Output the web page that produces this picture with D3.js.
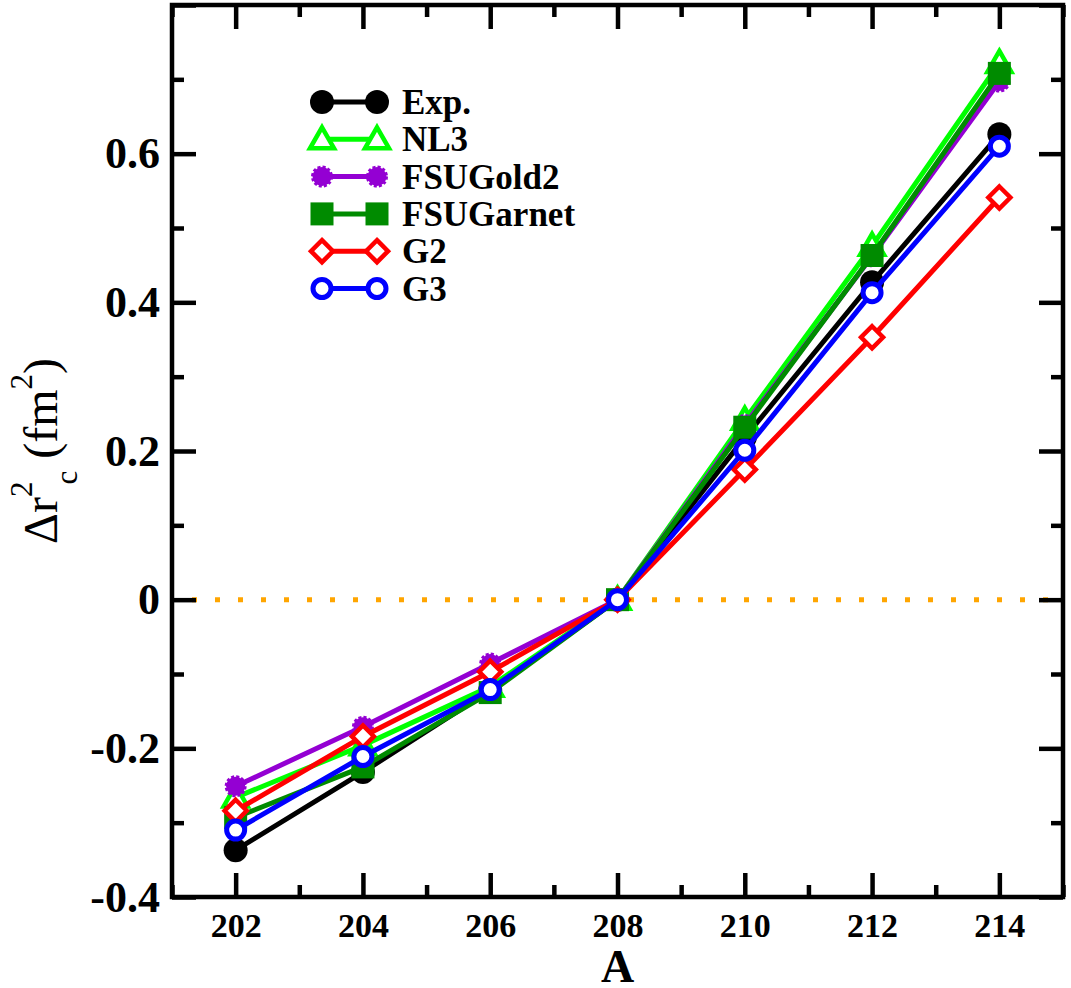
<!DOCTYPE html>
<html>
<head>
<meta charset="utf-8">
<script src="https://cdn.jsdelivr.net/npm/d3@7"></script>
<style>
  body { margin: 0; background: #fff; }
  svg { display: block; }
</style>
</head>
<body>
<svg></svg>
<script>
// mass numbers
const massNumbers = [202, 204, 206, 208, 210, 212, 214];

const expData      = [-0.337, -0.232, -0.122, 0, 0.218, 0.427, 0.626];
const nl3Data      = [-0.266, -0.196, -0.117, 0, 0.242, 0.476, 0.722];
const fsuGold2Data = [-0.251, -0.171, -0.086, 0, 0.235, 0.462, 0.697];
const fsuGarnetData= [-0.293, -0.225, -0.125, 0, 0.232, 0.463, 0.708];
const g2Data       = [-0.284, -0.184, -0.097, 0, 0.175, 0.353, 0.541];
const g3Data       = [-0.310, -0.211, -0.121, 0, 0.201, 0.413, 0.610];

const seriesNames = ["Exp.", "NL3", "FSUGold2", "FSUGarnet", "G2", "G3"];
const seriesColors = ["#000000", "#00ff00", "#9400d3", "#008b00", "#ff0000", "#0000ff"];

const xTicks = [202, 204, 206, 208, 210, 212, 214];
const xMinorTicks = [201, 203, 205, 207, 209, 211, 213, 215];
const yTicks = [-0.4, -0.2, 0, 0.2, 0.4, 0.6, 0.8];
const yTickLabels = ["-0.4", "-0.2", "0", "0.2", "0.4", "0.6", ""];
const yMinorTicks = [-0.3, -0.1, 0.1, 0.3, 0.5, 0.7];

const allData = [expData, nl3Data, fsuGold2Data, fsuGarnetData, g2Data, g3Data];

var w = 1071, h = 988;
const margin = { top: 5, bottom: 91, left: 172, right: 8 };
const innerWidth = w - margin.left - margin.right;
const innerHeight = h - margin.top - margin.bottom;

let svg = d3.select("svg").attr("width", w).attr("height", h);
const g = svg.append("g").attr("transform", `translate(${margin.left},${margin.top})`);

let x = d3.scaleLinear().domain([201, 215]).range([0, innerWidth]);
let y = d3.scaleLinear().domain([-0.4, 0.8]).range([innerHeight, 0]);

const font = "'Liberation Serif', 'Times New Roman', serif";

// zero reference line
g.append("line")
  .attr("x1", 0).attr("x2", innerWidth)
  .attr("y1", y(0)).attr("y2", y(0))
  .attr("stroke", "#ffa500")
  .attr("stroke-width", 5)
  .attr("stroke-dasharray", "5,18")
  .attr("stroke-dashoffset", -20);

function styleAxis(sel, size) {
  sel.select(".domain").remove();
  sel.selectAll(".tick line").attr("stroke", "#000").attr("stroke-width", 4.5);
  sel.selectAll("text").filter(function() { return this.textContent === ""; }).remove();
  sel.selectAll("text")
    .attr("font-family", font)
    .attr("font-weight", "bold")
    .attr("font-size", size)
    .attr("fill", "#000");
}

// bottom axis
g.append("g").attr("transform", `translate(0,${innerHeight})`)
  .call(d3.axisBottom(x).tickValues(xTicks).tickSize(-24).tickPadding(16).tickFormat(d3.format("d")))
  .call(s => styleAxis(s, 34));
g.append("g").attr("transform", `translate(0,${innerHeight})`)
  .call(d3.axisBottom(x).tickValues(xMinorTicks).tickSize(-12).tickFormat(""))
  .call(s => styleAxis(s, 34));
// top axis
g.append("g")
  .call(d3.axisTop(x).tickValues(xTicks).tickSize(-24).tickFormat(""))
  .call(s => styleAxis(s, 34));
g.append("g")
  .call(d3.axisTop(x).tickValues(xMinorTicks).tickSize(-12).tickFormat(""))
  .call(s => styleAxis(s, 34));

// left axis
g.append("g")
  .call(d3.axisLeft(y).tickValues(yTicks).tickSize(-24).tickPadding(12)
    .tickFormat((d, i) => yTickLabels[i]))
  .call(s => styleAxis(s, 44));
g.append("g")
  .call(d3.axisLeft(y).tickValues(yMinorTicks).tickSize(-12).tickFormat(""))
  .call(s => styleAxis(s, 44));
// right axis
g.append("g").attr("transform", `translate(${innerWidth},0)`)
  .call(d3.axisRight(y).tickValues(yTicks).tickSize(-24).tickFormat(""))
  .call(s => styleAxis(s, 44));
g.append("g").attr("transform", `translate(${innerWidth},0)`)
  .call(d3.axisRight(y).tickValues(yMinorTicks).tickSize(-12).tickFormat(""))
  .call(s => styleAxis(s, 44));

// frame
g.append("rect")
  .attr("width", innerWidth).attr("height", innerHeight)
  .attr("fill", "none").attr("stroke", "#000").attr("stroke-width", 4.5);

// markers
function drawMarker(sel, idx, color) {
  if (idx === 0) {
    sel.append("circle").attr("r", 12).attr("fill", color);
  } else if (idx === 1) {
    sel.append("path").attr("d", "M0,-12 L12,9 L-12,9 Z")
      .attr("fill", "#fff").attr("stroke", color).attr("stroke-width", 4.5);
  } else if (idx === 2) {
    sel.append("circle").attr("r", 9.5).attr("fill", color)
      .attr("stroke", color).attr("stroke-width", 3).attr("stroke-dasharray", "3,2");
  } else if (idx === 3) {
    sel.append("rect").attr("x", -11.5).attr("y", -11.5)
      .attr("width", 23).attr("height", 23).attr("fill", color);
  } else if (idx === 4) {
    sel.append("path").attr("d", "M0,-11 L11,0 L0,11 L-11,0 Z")
      .attr("fill", "#fff").attr("stroke", color).attr("stroke-width", 4.5);
  } else {
    sel.append("circle").attr("r", 9).attr("fill", "#fff")
      .attr("stroke", color).attr("stroke-width", 5);
  }
}

let line = d3.line().x((d, i) => x(massNumbers[i])).y(d => y(d));

allData.forEach(function(data, idx) {
  const color = seriesColors[idx];
  const sg = g.append("g");
  sg.append("path")
    .attr("d", line(data))
    .attr("fill", "none")
    .attr("stroke", color)
    .attr("stroke-width", 5);
  data.forEach(function(v, i) {
    const m = sg.append("g").attr("transform", `translate(${x(massNumbers[i])},${y(v)})`);
    drawMarker(m, idx, color);
  });
});

// legend
const legend = svg.append("g").attr("transform", "translate(322,102)");
seriesNames.forEach(function(name, i) {
  const row = legend.append("g").attr("transform", `translate(0,${i * 37.3})`);
  row.append("line").attr("x1", 0).attr("x2", 55).attr("y1", 0).attr("y2", 0)
    .attr("stroke", seriesColors[i]).attr("stroke-width", 5);
  drawMarker(row.append("g"), i, seriesColors[i]);
  drawMarker(row.append("g").attr("transform", "translate(55,0)"), i, seriesColors[i]);
  row.append("text").attr("x", 80).attr("y", 12)
    .attr("font-family", font).attr("font-weight", "bold").attr("font-size", 35)
    .text(name);
});

// axis titles
svg.append("text")
  .attr("x", margin.left + innerWidth / 2).attr("y", 982)
  .attr("text-anchor", "middle")
  .attr("font-family", font).attr("font-weight", "bold").attr("font-size", 46)
  .text("A");

const ylab = svg.append("text")
  .attr("transform", `translate(57,${margin.top + innerHeight / 2}) rotate(-90)`)
  .attr("text-anchor", "middle")
  .attr("font-family", font).attr("font-size", 48);
ylab.append("tspan").text("Δr");
ylab.append("tspan").attr("font-size", 31).attr("dy", -25).text("2");
ylab.append("tspan").attr("font-size", 31).attr("dy", 45).attr("dx", -3).text("c");
ylab.append("tspan").attr("dy", -20).text(" (fm");
ylab.append("tspan").attr("font-size", 31).attr("dy", -25).text("2");
ylab.append("tspan").attr("dy", 25).text(")");
</script>
</body>
</html>
